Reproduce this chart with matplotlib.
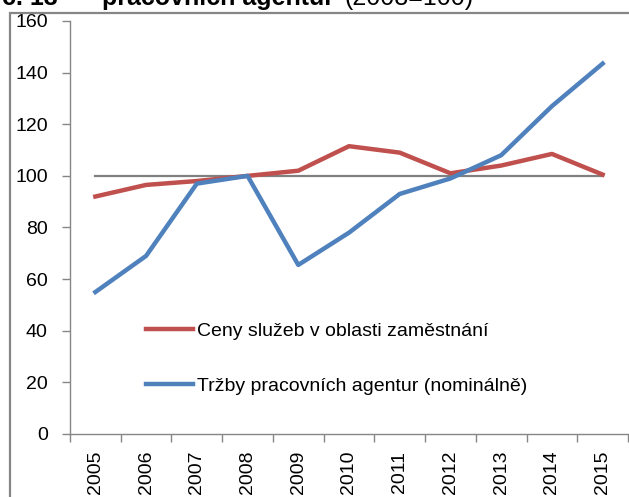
import matplotlib
matplotlib.use("Agg")
import matplotlib.pyplot as plt
from matplotlib.patches import Rectangle

# data (2008 = 100)
years = ["2005", "2006", "2007", "2008", "2009", "2010",
         "2011", "2012", "2013", "2014", "2015"]
ceny = [92, 96.5, 98, 100, 102, 111.5, 109, 101, 104, 108.5, 100.5]
trzby = [55, 69, 97, 100, 65.5, 78, 93, 99, 108, 127, 143.5]
base = [100] * len(years)

label_ceny = "Ceny služeb v oblasti zaměstnání"
label_trzby = "Tržby pracovních agentur (nominálně)"

plt.rcParams["font.family"] = ["Liberation Sans", "DejaVu Sans"]

fig = plt.figure(figsize=(6.29, 4.97), dpi=100)
ax = fig.add_axes([70 / 629, 1 - 434 / 497, 558 / 629, 413 / 497])

x = list(range(len(years)))
ax.plot(x, base, color="#808080", lw=1.6, zorder=2)
ax.plot(x, ceny, color="#C0504D", lw=3.2, label=label_ceny, zorder=3)
ax.plot(x, trzby, color="#4F81BD", lw=3.2, label=label_trzby, zorder=4)

ax.set_xlim(-0.5, len(years) - 0.5)
ax.set_ylim(0, 160)
ax.set_yticks(range(0, 161, 20))
ax.set_xticks(x)
ax.set_xticklabels(years, rotation=90)
ax.set_xticks([i - 0.5 for i in range(len(years) + 1)], minor=True)

ax.tick_params(axis="y", length=6, width=1, color="#868686", pad=10,
               labelsize=14)
ax.tick_params(axis="x", which="major", length=0, pad=12, labelsize=14)
ax.tick_params(axis="x", which="minor", length=6, width=1, color="#868686")

for s in ["top", "right"]:
    ax.spines[s].set_visible(False)
for s in ["left", "bottom"]:
    ax.spines[s].set_color("#868686")
    ax.spines[s].set_linewidth(1)

leg = ax.legend(loc="upper left", bbox_to_anchor=(0.105, 0.312), frameon=False,
                fontsize=14, handlelength=2.4, handletextpad=0.2,
                labelspacing=1.9)

# outer chart frame (cut off by the image edges)
fig.patches.append(Rectangle((10 / 629, -0.1), 1.2, 1.1 - 13 / 497,
                             transform=fig.transFigure, fill=False,
                             edgecolor="#868686", lw=1.6))

# title, only its lower part is visible in the source image
fig.text(2 / 629, 1 - 5 / 497, "č. 13", fontsize=18, fontweight="bold",
         va="baseline")
fig.text(102 / 629, 1 - 5 / 497, "pracovních agentur", fontsize=18,
         fontweight="bold", va="baseline")
fig.text(344 / 629, 1 - 5 / 497, "(2008=100)", fontsize=18, va="baseline")

fig.savefig("out.png", dpi=100)
